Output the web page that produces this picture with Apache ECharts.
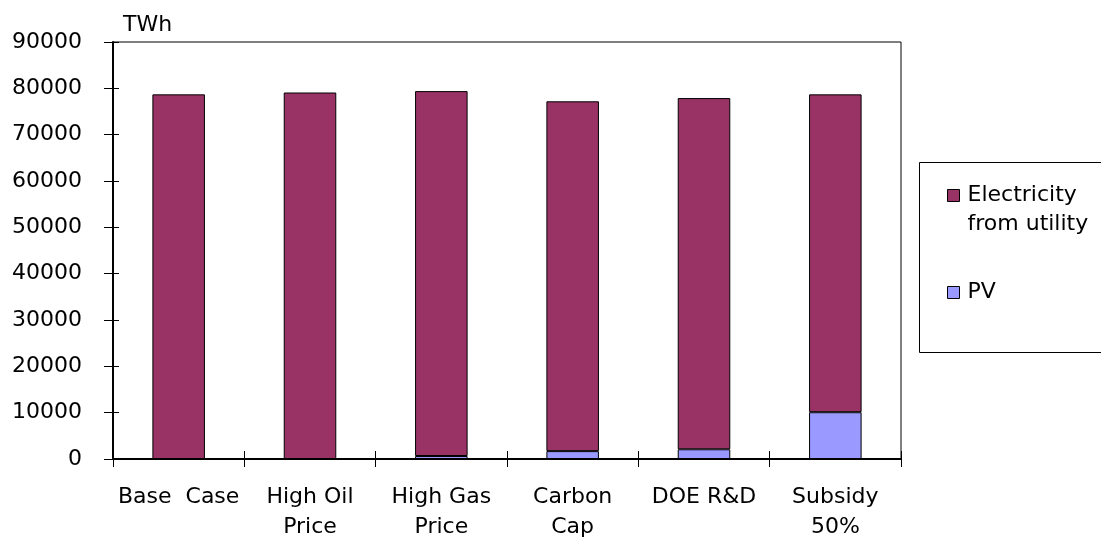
<!DOCTYPE html>
<html>
<head>
<meta charset="utf-8">
<title>Electricity supply by scenario</title>
<script src="https://cdn.jsdelivr.net/npm/echarts@6/dist/echarts.min.js"></script>
<style>
  html, body { margin: 0; padding: 0; background: #fff; }
  #chart { width: 1101px; height: 540px; }
</style>
</head>
<body>
<div id="chart"></div>
<script>
// Scenarios on the x axis
const categories = ['Base  Case', 'High Oil\nPrice', 'High Gas\nPrice', 'Carbon\nCap', 'DOE R&D', 'Subsidy\n50%'];
// TWh supplied by on-site PV (bottom of stack)
const pvValues = [0, 0, 650, 1700, 2100, 10100];
// TWh bought from the utility (top of stack)
const utilityValues = [78700, 79100, 78750, 75500, 75800, 68600];
// Value axis range
const yMin = 0, yMax = 90000, yStep = 10000;

const FONT = 'DejaVu Sans';
const chart = echarts.init(document.getElementById('chart'), null, { renderer: 'canvas' });

const hiddenAxisParts = {
  axisLine: { show: false },
  axisLabel: { show: false },
  splitLine: { show: false }
};

chart.setOption({
  animation: false,
  backgroundColor: '#fff',
  textStyle: { fontFamily: FONT, color: '#000' },
  grid: {
    left: 113, right: 200, top: 42, bottom: 81,
    show: true, borderColor: '#000', borderWidth: 1,
    containLabel: false, outerBoundsMode: 'none'
  },
  legend: {
    orient: 'vertical',
    left: 947, top: 152,
    padding: 0,
    itemGap: 39,
    itemWidth: 12, itemHeight: 12,
    icon: 'rect',
    data: ['Electricity from utility', 'PV'],
    formatter: function (name) {
      // blank first line keeps the swatch level with "Electricity"
      return name === 'PV' ? 'PV' : ' \nElectricity\nfrom utility';
    },
    textStyle: { fontFamily: FONT, fontSize: 22, lineHeight: 29, color: '#000', padding: [0, 0, 0, 3] },
    itemStyle: { borderColor: '#000', borderWidth: 1 }
  },
  graphic: [
    {
      type: 'rect', z: -1,
      shape: { x: 919.5, y: 162.5, width: 200, height: 190 },
      style: { fill: '#fff', stroke: '#000', lineWidth: 1 }
    },
    {
      type: 'text',
      x: 123, y: 25,
      style: { text: 'TWh', font: '22px "DejaVu Sans"', fill: '#000', verticalAlign: 'middle' }
    }
  ],
  xAxis: [
    {
      type: 'category',
      data: categories,
      axisLine: { lineStyle: { color: '#000', width: 2 } },
      axisTick: { show: true, length: 8, lineStyle: { color: '#000', width: 1 } },
      axisLabel: { interval: 0, fontFamily: FONT, fontSize: 22, lineHeight: 30, color: '#000', margin: 23 }
    },
    Object.assign({
      type: 'category',
      data: categories,
      position: 'bottom',
      axisTick: { show: true, inside: true, length: 8, lineStyle: { color: '#000', width: 1 } }
    }, hiddenAxisParts)
  ],
  yAxis: [
    {
      type: 'value',
      min: yMin, max: yMax, interval: yStep,
      axisLine: { show: true, lineStyle: { color: '#000', width: 2 } },
      axisTick: { show: true, length: 9, lineStyle: { color: '#000', width: 1 } },
      axisLabel: {
        fontFamily: FONT, fontSize: 22, color: '#000', margin: 31,
        formatter: function (v) { return String(v); }
      },
      splitLine: { show: false }
    },
    Object.assign({
      type: 'value',
      position: 'left',
      min: yMin, max: yMax, interval: yStep,
      axisTick: { show: true, inside: true, length: 6, lineStyle: { color: '#000', width: 1 } }
    }, hiddenAxisParts)
  ],
  series: [
    {
      name: 'PV',
      type: 'bar',
      stack: 'supply',
      barWidth: '40%',
      data: pvValues,
      itemStyle: { color: '#9999FF', borderColor: '#000', borderWidth: 1 }
    },
    {
      name: 'Electricity from utility',
      type: 'bar',
      stack: 'supply',
      barWidth: '40%',
      data: utilityValues,
      itemStyle: { color: '#993366', borderColor: '#000', borderWidth: 1 }
    }
  ]
});
</script>
</body>
</html>
